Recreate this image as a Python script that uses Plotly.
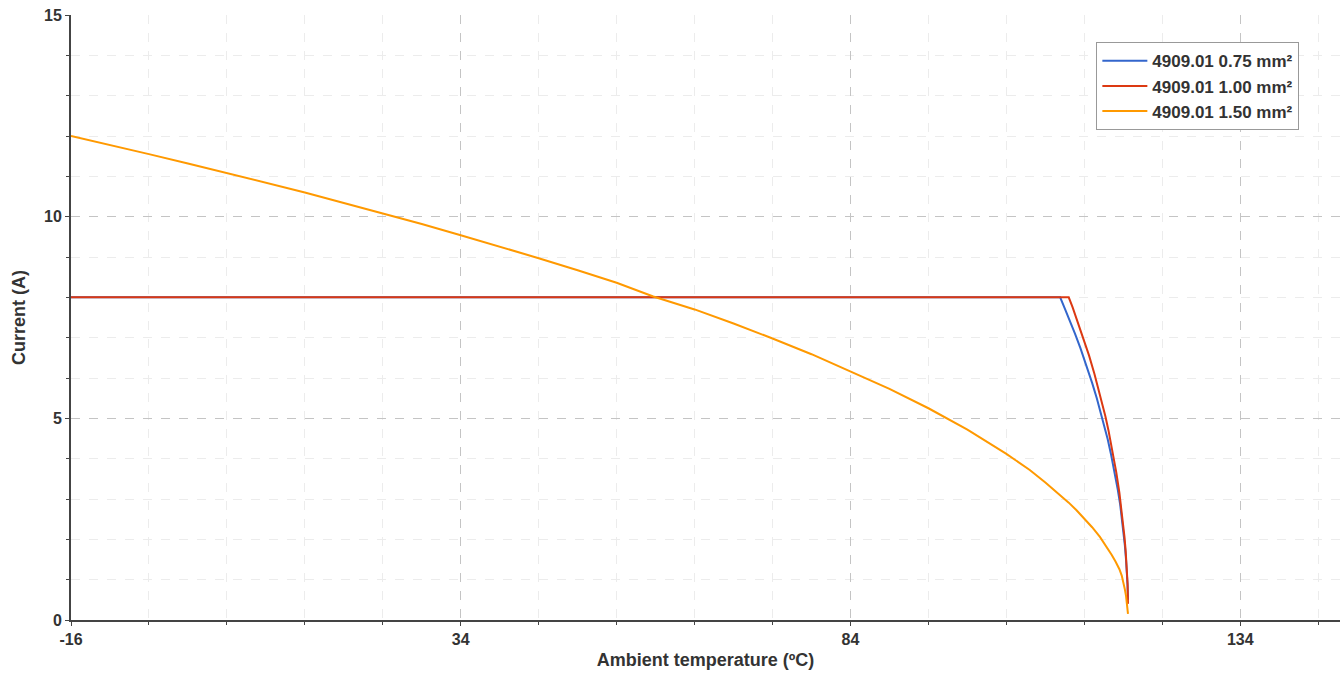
import plotly.graph_objects as go

# Values
t_075 = [-16, 110.9, 111.5, 112.0, 112.8, 113.5, 114.3, 115.0, 115.6, 116.2, 116.6, 117.0, 117.4, 117.7, 118.0, 118.3, 118.6, 118.8, 119.0, 119.2, 119.35, 119.45, 119.55, 119.6]
i_075 = [8.0, 8.0, 7.72, 7.49, 7.1, 6.74, 6.3, 5.88, 5.5, 5.09, 4.8, 4.48, 4.13, 3.85, 3.55, 3.22, 2.86, 2.57, 2.24, 1.85, 1.5, 1.22, 0.85, 0.5]

t_100 = [-16, 112.0, 112.5, 113.0, 113.8, 114.6, 115.3, 116.0, 116.7, 117.1, 117.5, 117.8, 118.1, 118.5, 118.8, 119.0, 119.15, 119.3, 119.45, 119.55, 119.6]
i_100 = [8.0, 8.0, 7.75, 7.48, 7.04, 6.56, 6.1, 5.6, 5.05, 4.7, 4.32, 4.0, 3.66, 3.15, 2.7, 2.36, 2.06, 1.72, 1.29, 0.9, 0.4]

t_150 = [-16, -11, -6, -1, 4, 9, 14, 19, 24, 29, 34, 39, 44, 49, 54, 58.7, 64, 69, 74, 79, 84, 89, 94, 99, 104, 107, 109, 111, 112, 113, 114, 115, 116, 117, 117.5, 118, 118.5, 118.8, 119.0, 119.2, 119.35, 119.45, 119.6]
i_150 = [12.0, 11.78, 11.55, 11.32, 11.08, 10.84, 10.6, 10.34, 10.08, 9.82, 9.54, 9.26, 8.97, 8.67, 8.36, 8.02, 7.7, 7.35, 6.98, 6.59, 6.17, 5.73, 5.25, 4.72, 4.12, 3.72, 3.41, 3.08, 2.91, 2.72, 2.52, 2.3, 2.06, 1.78, 1.62, 1.45, 1.26, 1.10, 0.95, 0.76, 0.6, 0.45, 0.15]

x_tick_vals = [-16, 34, 84, 134]
x_tick_text = ["-16", "34", "84", "134"]
y_tick_vals = [0, 5, 10, 15]

series_names = ["4909.01 0.75 mm²", "4909.01 1.00 mm²", "4909.01 1.50 mm²"]
series_colors = ["#3366cc", "#dc3912", "#ff9900"]

fig = go.Figure()
for name, xs, ys, col in zip(series_names, [t_075, t_100, t_150], [i_075, i_100, i_150], series_colors):
    fig.add_trace(go.Scatter(x=xs, y=ys, mode="lines", name=name,
                             line=dict(color=col, width=2)))

font_fam = "Liberation Sans, Arial, sans-serif"
txt_col = "#333333"
fig.update_layout(
    width=1343, height=675,
    margin=dict(l=71, r=3, t=15, b=55),
    paper_bgcolor="white", plot_bgcolor="white",
    font=dict(family=font_fam, size=16, color=txt_col, weight="bold"),
    showlegend=True,
    legend=dict(x=0.808, y=0.955, xanchor="left", yanchor="top",
                bgcolor="white", bordercolor="#999999", borderwidth=1,
                font=dict(size=17, color=txt_col, family=font_fam, weight="bold"),
                tracegroupgap=0, itemwidth=45),
    xaxis=dict(
        range=[-16, 146.8], tickmode="array", tickvals=x_tick_vals, ticktext=x_tick_text,
        showgrid=True, gridcolor="#c4c4c4", griddash="dash", gridwidth=1,
        showline=True, linecolor="#444444", linewidth=2,
        ticks="outside", ticklen=4, tickcolor="#444444", tickwidth=1,
        minor=dict(dtick=10, tick0=-16, showgrid=True, gridcolor="#ececec", griddash="dash",
                   ticks="outside", ticklen=3, tickcolor="#444444"),
        zeroline=False,
        title=dict(text="Ambient temperature (ºC)", standoff=6,
                   font=dict(size=18, color=txt_col, weight="bold")),
        tickfont=dict(size=16, color=txt_col, weight="bold"),
    ),
    yaxis=dict(
        range=[0, 15], tickmode="array", tickvals=y_tick_vals,
        showgrid=True, gridcolor="#c4c4c4", griddash="dash", gridwidth=1,
        showline=True, linecolor="#444444", linewidth=2,
        ticks="outside", ticklen=4, tickcolor="#444444", tickwidth=1,
        minor=dict(dtick=1, tick0=0, showgrid=True, gridcolor="#ececec", griddash="dash",
                   ticks="outside", ticklen=3, tickcolor="#444444"),
        zeroline=False,
        title=dict(text="Current (A)", standoff=14,
                   font=dict(size=18, color=txt_col, weight="bold")),
        tickfont=dict(size=16, color=txt_col, weight="bold"),
    ),
)

fig.write_html("out.html", config={"displayModeBar": False},
               post_script="document.body.style.margin='0';")
